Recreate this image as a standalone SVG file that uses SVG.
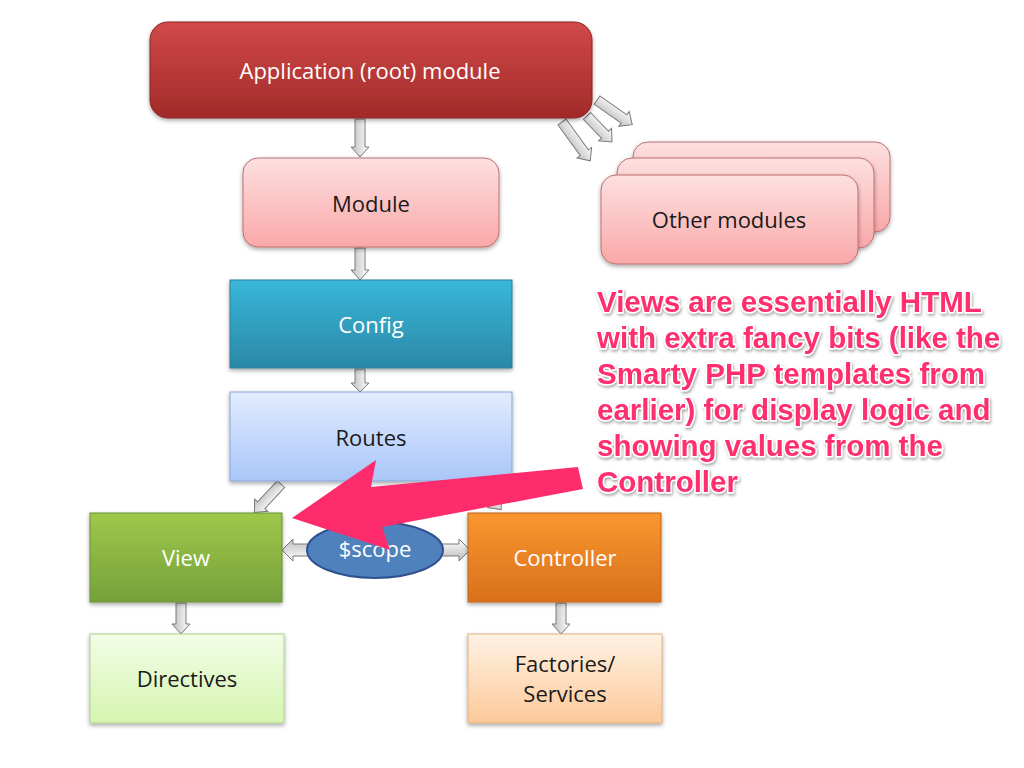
<svg xmlns="http://www.w3.org/2000/svg" width="1024" height="768" viewBox="0 0 1024 768">
<defs>
<linearGradient id="gRoot" x1="0" y1="0" x2="0" y2="1"><stop offset="0" stop-color="#d04a48"/><stop offset="1" stop-color="#a22a29"/></linearGradient>
<linearGradient id="gPink" x1="0" y1="0" x2="0" y2="1"><stop offset="0" stop-color="#fde0e0"/><stop offset="1" stop-color="#faa8a8"/></linearGradient>
<linearGradient id="gCfg" x1="0" y1="0" x2="0" y2="1"><stop offset="0" stop-color="#38b7da"/><stop offset="1" stop-color="#2b88a6"/></linearGradient>
<linearGradient id="gRt" x1="0" y1="0" x2="0" y2="1"><stop offset="0" stop-color="#e2ecff"/><stop offset="1" stop-color="#a9c6f8"/></linearGradient>
<linearGradient id="gView" x1="0" y1="0" x2="0" y2="1"><stop offset="0" stop-color="#9dc84b"/><stop offset="1" stop-color="#76a13a"/></linearGradient>
<linearGradient id="gCtl" x1="0" y1="0" x2="0" y2="1"><stop offset="0" stop-color="#fa962f"/><stop offset="1" stop-color="#d9701c"/></linearGradient>
<linearGradient id="gDir" x1="0" y1="0" x2="0" y2="1"><stop offset="0" stop-color="#f2fde6"/><stop offset="1" stop-color="#d5f4b0"/></linearGradient>
<linearGradient id="gFac" x1="0" y1="0" x2="0" y2="1"><stop offset="0" stop-color="#fff2e4"/><stop offset="1" stop-color="#fcc999"/></linearGradient>
<linearGradient id="gArr" x1="0" y1="0" x2="0" y2="1"><stop offset="0" stop-color="#ffffff"/><stop offset="1" stop-color="#bdbdbd"/></linearGradient>
<filter id="sh" x="-10%" y="-10%" width="130%" height="140%"><feDropShadow dx="0" dy="2" stdDeviation="2" flood-color="#000" flood-opacity="0.35"/></filter>
<filter id="tsh" x="-5%" y="-10%" width="115%" height="130%"><feDropShadow dx="1" dy="2" stdDeviation="1.5" flood-color="#000" flood-opacity="0.35"/></filter>
</defs>
<style>
.lbl{font-family:"Open Sans","Liberation Sans",sans-serif;font-size:22px;text-anchor:middle;dominant-baseline:central}
.w{fill:#ffffff}
.k{fill:#1a1a1a}
.arr{fill:url(#gArr);stroke:#7a7a7a;stroke-width:1}
.note{font-family:"Liberation Sans",Arial,sans-serif;font-weight:bold;font-size:29.5px;fill:#ff2d6e;stroke:#ffffff;stroke-width:3;paint-order:stroke;stroke-linejoin:round}
</style>
<g id="connectors">
<path class="arr" transform="translate(360,119) rotate(90)" d="M0,-5 H28 V-9 L38,0 L28,9 V5 H0 Z"/>
<path class="arr" transform="translate(360,248) rotate(90)" d="M0,-5 H22 V-9 L32,0 L22,9 V5 H0 Z"/>
<path class="arr" transform="translate(360,369) rotate(90)" d="M0,-5 H14 V-9 L23,0 L14,9 V5 H0 Z"/>
<path class="arr" transform="translate(281,484) rotate(133)" d="M0,-5 H29 V-9 L39,0 L29,9 V5 H0 Z"/>
<path class="arr" transform="translate(478,482) rotate(50)" d="M0,-5 H26 V-9 L36,0 L26,9 V5 H0 Z"/>
<path class="arr" transform="translate(181,603) rotate(90)" d="M0,-5 H21 V-9 L31,0 L21,9 V5 H0 Z"/>
<path class="arr" transform="translate(561,603) rotate(90)" d="M0,-5 H21 V-9 L31,0 L21,9 V5 H0 Z"/>
<path class="arr" transform="translate(312,550) rotate(180)" d="M0,-6 H19 V-11 L30,0 L19,11 V6 H0 Z"/>
<path class="arr" transform="translate(440,550)" d="M0,-6 H19 V-11 L30,0 L19,11 V6 H0 Z"/>
<path class="arr" transform="translate(562,122) rotate(54)" d="M0,-5 H38 V-9 L48,0 L38,9 V5 H0 Z"/>
<path class="arr" transform="translate(587,116) rotate(46)" d="M0,-5 H26 V-9 L36,0 L26,9 V5 H0 Z"/>
<path class="arr" transform="translate(597,100) rotate(35)" d="M0,-5 H33 V-9 L43,0 L33,9 V5 H0 Z"/>
</g>
<g id="root"><rect x="150" y="22" width="442" height="96" rx="18" fill="url(#gRoot)" stroke="#8c2222" stroke-width="1" filter="url(#sh)"/><text class="lbl w" x="370" y="70">Application (root) module</text></g>
<g id="module"><rect x="243" y="158" width="256" height="89" rx="15" fill="url(#gPink)" stroke="#c07070" stroke-width="1" filter="url(#sh)"/><text class="lbl k" x="371" y="203">Module</text></g>
<g id="other-modules">
<rect x="633" y="142" width="257" height="90" rx="15" fill="url(#gPink)" stroke="#c07070" stroke-width="1" filter="url(#sh)"/>
<rect x="617" y="158" width="257" height="90" rx="15" fill="url(#gPink)" stroke="#c07070" stroke-width="1" filter="url(#sh)"/>
<rect x="601" y="175" width="257" height="89" rx="15" fill="url(#gPink)" stroke="#c07070" stroke-width="1" filter="url(#sh)"/>
<text class="lbl k" x="729" y="219">Other modules</text></g>
<g id="config"><rect x="230" y="280" width="282" height="88" fill="url(#gCfg)" stroke="#2a7e98" stroke-width="1" filter="url(#sh)"/><text class="lbl w" x="371" y="324">Config</text></g>
<g id="routes"><rect x="230" y="392" width="282" height="89" fill="url(#gRt)" stroke="#8aa6d6" stroke-width="1" filter="url(#sh)"/><text class="lbl k" x="371" y="437">Routes</text></g>
<g id="view"><rect x="90" y="513" width="192" height="89" fill="url(#gView)" stroke="#6a9034" stroke-width="1" filter="url(#sh)"/><text class="lbl w" x="186" y="557">View</text></g>
<g id="controller"><rect x="468" y="513" width="193" height="89" fill="url(#gCtl)" stroke="#c0651a" stroke-width="1" filter="url(#sh)"/><text class="lbl w" x="565" y="557">Controller</text></g>
<g id="directives"><rect x="90" y="634" width="194" height="89" fill="url(#gDir)" stroke="#b2d090" stroke-width="1" filter="url(#sh)"/><text class="lbl k" x="187" y="678">Directives</text></g>
<g id="factories"><rect x="468" y="634" width="194" height="89" fill="url(#gFac)" stroke="#e0b080" stroke-width="1" filter="url(#sh)"/><text class="lbl k" x="565" y="663">Factories/</text><text class="lbl k" x="565" y="693">Services</text></g>
<g id="scope"><ellipse cx="375" cy="550" rx="68" ry="28" fill="#4f81bd" stroke="#2f528f" stroke-width="2"/><text class="lbl w" x="375" y="548">$scope</text></g>
<g id="callout">
<polygon points="292,518 376,460 371,487 578,467 583,489 382,527 390,550" fill="#fe2c6c"/>
<g filter="url(#tsh)">
<text class="note" x="597" y="312">Views are essentially HTML</text>
<text class="note" x="597" y="348">with extra fancy bits (like the</text>
<text class="note" x="597" y="384">Smarty PHP templates from</text>
<text class="note" x="597" y="420">earlier) for display logic and</text>
<text class="note" x="597" y="456">showing values from the</text>
<text class="note" x="597" y="492">Controller</text>
</g></g>
</svg>
